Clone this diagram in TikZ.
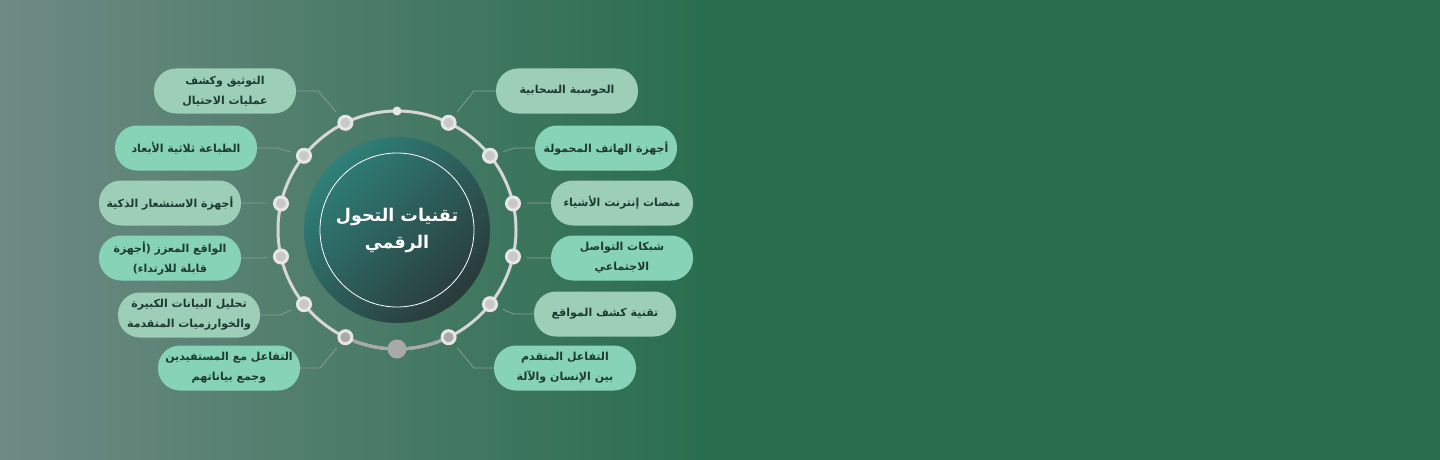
\documentclass[tikz,border=0pt]{standalone}
\usepackage{fontspec}
\newfontfamily\arabicfont[Script=Arabic]{DejaVu Sans}
\TeXXeTstate=1
\newcommand{\artxt}[1]{\beginR #1\endR}
\definecolor{bgL}{HTML}{6E8A83}
\definecolor{bgR}{HTML}{2A6E50}
\definecolor{mintA}{HTML}{9DCFB8}
\definecolor{mintB}{HTML}{86D3B8}
\definecolor{pilltext}{HTML}{1F3A33}
\definecolor{hubtop}{HTML}{2F8079}
\definecolor{hubbot}{HTML}{2A3A3B}
\definecolor{ringlight}{HTML}{D6D6D6}
\definecolor{ringdark}{HTML}{A9A9A9}
\definecolor{dotfill}{HTML}{C8C8C8}
\definecolor{dotrim}{HTML}{E6E6E6}
\definecolor{linkgray}{HTML}{8F9F99}
\begin{document}
\begin{tikzpicture}[x=1pt, y=-1pt,
    pill/.style={rounded corners=22pt, minimum width=142pt, minimum height=45pt,
      align=center, inner sep=2pt, text=pilltext,
      font=\arabicfont\bfseries\fontsize{11}{20}\selectfont},
    pillA/.style={pill, fill=mintA},
    pillB/.style={pill, fill=mintB},
    dot/.style={circle, fill=dotfill, draw=dotrim, line width=3pt, minimum size=13pt, inner sep=0pt},
    link/.style={draw=linkgray, line width=0.7pt, shorten >=6pt}]
    \useasboundingbox (0,0) rectangle (1440,460);
    % background
    \shade[left color=bgL, right color=bgR] (0,0) rectangle (700,460);
    \fill[bgR] (699,0) rectangle (1440,460);

    % ring
    \coordinate (O) at (397,230);
    \draw[ringlight, line width=3pt] (O) circle[radius=119];
    \draw[ringdark, line width=3pt] plot[domain=64.3:115.7, samples=30] ({397+119*cos(\x)},{230+119*sin(\x)});

    % hub
    \node (Hub) at (O) [circle, minimum size=186pt, shading=axis, top color=hubtop, bottom color=hubbot, shading angle=45] {};
    \node (HubRing) at (O) [circle, minimum size=154pt, draw=white, line width=0.8pt] {};
    \node (HubText) at (O) [align=center, text=white, font=\arabicfont\bfseries\fontsize{17.5}{27}\selectfont]
      {\artxt{تقنيات التحول}\\\artxt{الرقمي}};

    % dots on the ring
    \node (dT) at (397,111) [circle, fill=dotrim, minimum size=9pt, inner sep=0pt] {};
    \node (dB) at (397,349) [circle, fill=ringdark, minimum size=19pt, inner sep=0pt] {};
    \node[dot] (dR1) at (448.6,122.8) {};
    \node[dot] (dR2) at (490.0,155.8) {};
    \node[dot] (dR3) at (513.0,203.5) {};
    \node[dot] (dR4) at (513.0,256.5) {};
    \node[dot] (dR5) at (490.0,304.2) {};
    \node[dot, fill=ringdark] (dR6) at (448.6,337.2) {};
    \node[dot] (dL1) at (345.4,122.8) {};
    \node[dot] (dL2) at (304.0,155.8) {};
    \node[dot] (dL3) at (281.0,203.5) {};
    \node[dot] (dL4) at (281.0,256.5) {};
    \node[dot] (dL5) at (304.0,304.2) {};
    \node[dot, fill=ringdark] (dL6) at (345.4,337.2) {};

    % left pills
    \node[pillA] (L1) at (225,91) {\artxt{التوثيق وكشف}\\\artxt{عمليات الاحتيال}};
    \node[pillB] (L2) at (186,148) {\artxt{الطباعة ثلاثية الأبعاد}};
    \node[pillA] (L3) at (170,203) {\artxt{أجهزة الاستشعار الذكية}};
    \node[pillB] (L4) at (170,258) {\artxt{الواقع المعزز (أجهزة}\\\artxt{قابلة للارتداء)}};
    \node[pillA] (L5) at (189,315) {\artxt{تحليل البيانات الكبيرة}\\\artxt{والخوارزميات المتقدمة}};
    \node[pillB] (L6) at (229,368) {\artxt{التفاعل مع المستفيدين}\\\artxt{وجمع بياناتهم}};

    % right pills
    \node[pillA] (R1) at (567,91) {\artxt{الحوسبة السحابية}};
    \node[pillB] (R2) at (606,148) {\artxt{أجهزة الهاتف المحمولة}};
    \node[pillA] (R3) at (622,203) {\artxt{منصات إنترنت الأشياء}};
    \node[pillB] (R4) at (622,258) {\artxt{شبكات التواصل}\\\artxt{الاجتماعي}};
    \node[pillA] (R5) at (605,314) {\artxt{تقنية كشف المواقع}};
    \node[pillB] (R6) at (565,368) {\artxt{التفاعل المتقدم}\\\artxt{بين الإنسان والآلة}};

    % connectors
    \draw[link] (L1.east) -- ++(22,0) -- (dL1);
    \draw[link] (L2.east) -- ++(20,0) -- (dL2);
    \draw[link] (L3.east) -- ++(20,0) -- (dL3);
    \draw[link] (L4.east) -- ++(20,0) -- (dL4);
    \draw[link] (L5.east) -- ++(20,0) -- (dL5);
    \draw[link] (L6.east) -- ++(20,0) -- (dL6);
    \draw[link] (R1.west) -- ++(-22,0) -- (dR1);
    \draw[link] (R2.west) -- ++(-20,0) -- (dR2);
    \draw[link] (R3.west) -- ++(-20,0) -- (dR3);
    \draw[link] (R4.west) -- ++(-20,0) -- (dR4);
    \draw[link] (R5.west) -- ++(-20,0) -- (dR5);
    \draw[link] (R6.west) -- ++(-20,0) -- (dR6);
\end{tikzpicture}
\end{document}
